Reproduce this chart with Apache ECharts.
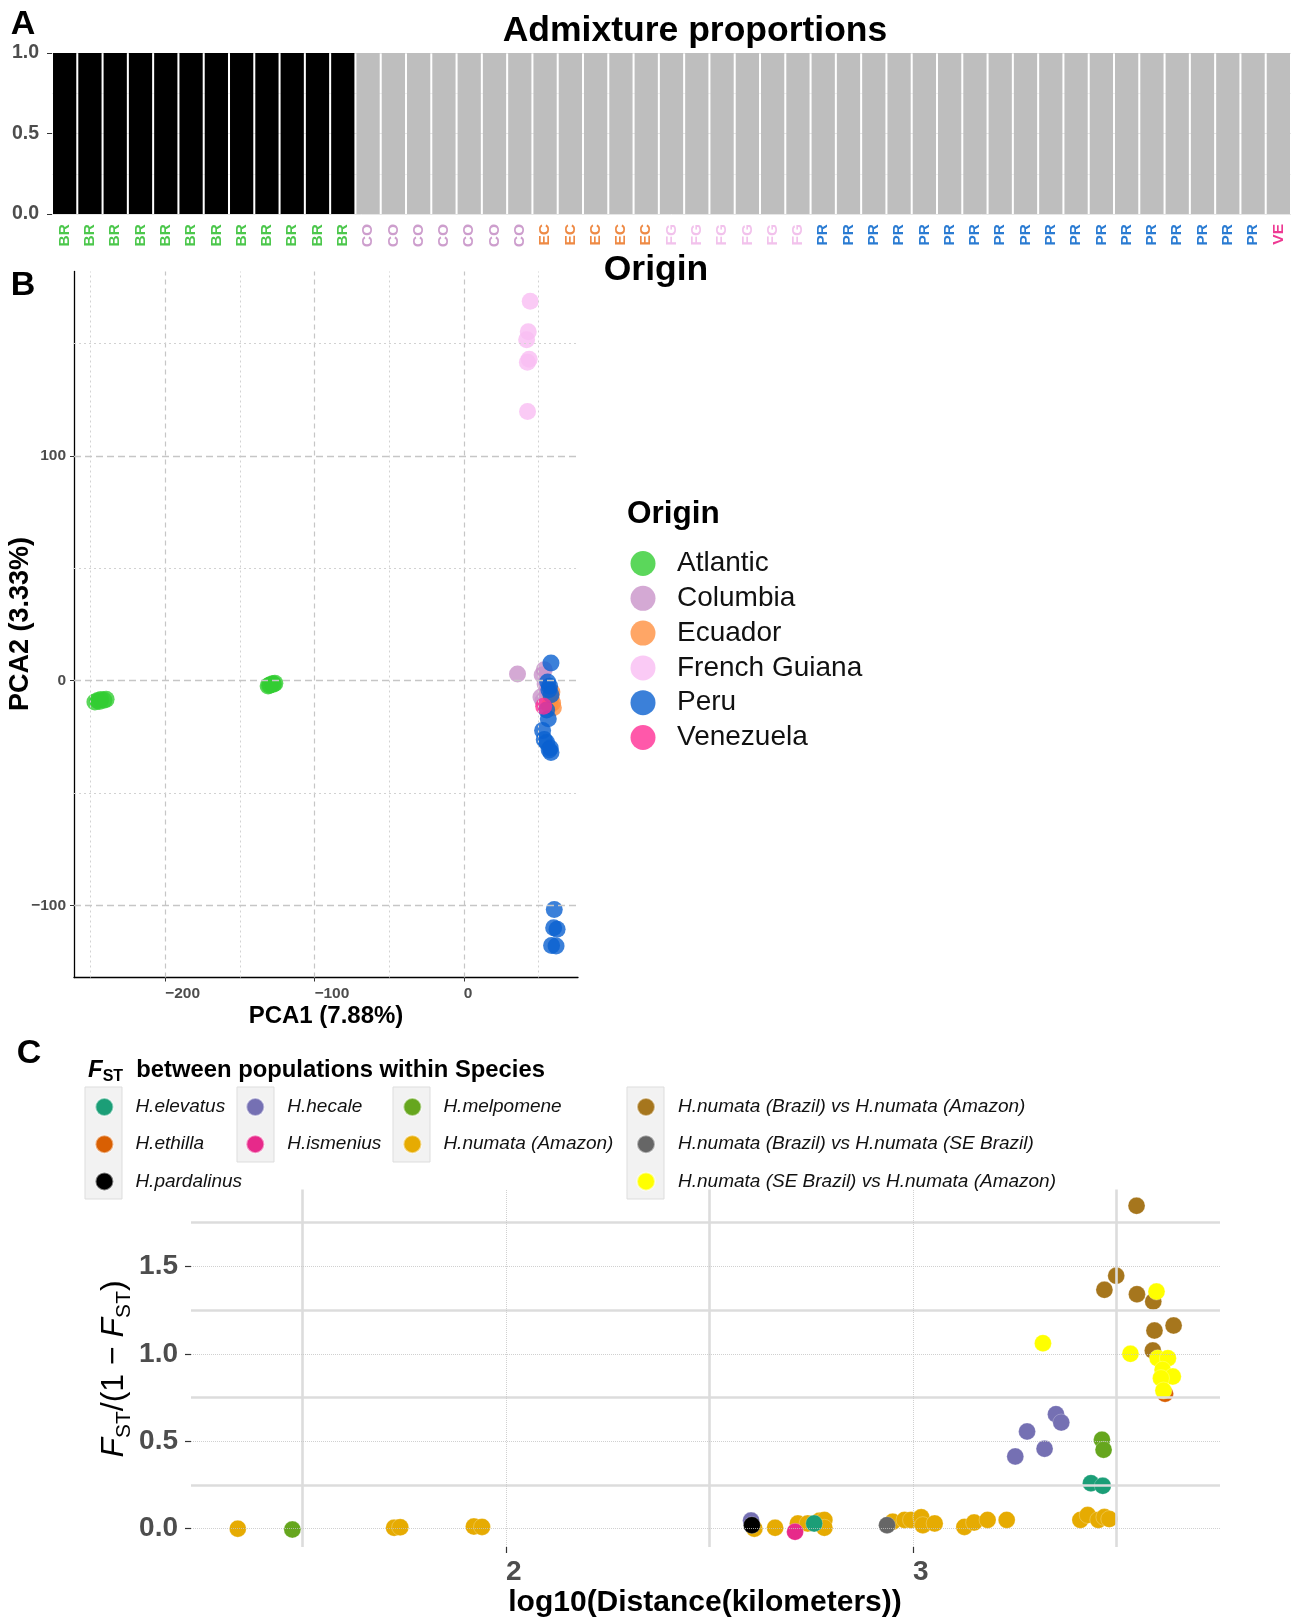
<!DOCTYPE html>
<html><head><meta charset="utf-8">
<script src="https://cdn.jsdelivr.net/npm/echarts@6/dist/echarts.min.js"></script>
<style>html,body{margin:0;padding:0;background:#fff}#c{width:1293px;height:1620px}</style>
</head><body><div id="c"></div>
<script>
// ---------------- DATA ----------------
// Panel A: admixture proportions (K=2), one bar per sample
const admixSamples = ['BR','BR','BR','BR','BR','BR','BR','BR','BR','BR','BR','BR',
  'CO','CO','CO','CO','CO','CO','CO',
  'EC','EC','EC','EC','EC',
  'FG','FG','FG','FG','FG','FG',
  'PR','PR','PR','PR','PR','PR','PR','PR','PR','PR','PR','PR','PR','PR','PR','PR','PR','PR',
  'VE'];
const admixK1 = [1,1,1,1,1,1,1,1,1,1,1,1,
  0,0,0,0,0,0,0, 0,0,0,0,0, 0,0,0,0,0,0,
  0,0,0,0,0,0,0,0,0,0,0,0,0,0,0,0,0,0, 0];
const admixK2 = [0,0,0,0,0,0,0,0,0,0,0,0,
  1,1,1,1,1,1,1, 1,1,1,1,1, 1,1,1,1,1,1,
  1,1,1,1,1,1,1,1,1,1,1,1,1,1,1,1,1,1, 1];

// Panel B: PCA
const originNames = ['Atlantic','Columbia','Ecuador','French Guiana','Peru','Venezuela'];
const pcaAtlantic = [[-247,-9.5],[-245,-8.8],[-243,-8.4],[-241,-8.7],[-239.5,-8.3],[-244,-9.2],
  [-131,-2.3],[-129.5,-1.8],[-128,-1.4],[-126.5,-1.1],[-130,-2.0],[-127.5,-1.6]];
const pcaColumbia = [[36,3],[53.9,4.9],[52.5,2.5],[54.5,-1.5],[51.7,-7.3],[55.5,-4.5],[53,-9]];
const pcaEcuador = [[59.5,-9.9],[58.5,-7.5],[60,-12],[57.5,-11],[59,-5]];
const pcaFrenchGuiana = [[44.5,168.8],[43.2,155.2],[42.1,151.6],[43.8,143],[42.6,141.6],[42.7,119.7]];
const pcaPeru = [[58.4,7.9],[56.2,-0.6],[57.5,-2.5],[57,-4],[58.4,-6.2],[55.5,-13],[56.6,-16.9],
  [52.8,-22.2],[53.9,-26.2],[55.5,-27.5],[57.9,-29.9],[58.4,-31.9],[57.2,-30.8],
  [60.6,-101.8],[60.2,-109.9],[62.5,-110.5],[58.8,-117.8],[61.8,-118]];
const pcaVenezuela = [[53.5,-11.4]];
const pcaXTicks = [-200,-100,0];
const pcaYTicks = [-100,0,100];
const pcaXMinor = [-250,-150,-50,50];
const pcaYMinor = [-50,50,150];

// Panel C: FST/(1-FST) vs log10 distance
const fstNumataAmazon = [[1.341,0],[1.725,0.005],[1.740,0.008],[1.921,0.012],[1.941,0.01],
  [2.61,0],[2.661,0.005],[2.717,0.03],[2.741,0.03],[2.77,0.045],[2.782,0.05],[2.782,0.005],
  [2.95,0.04],[2.979,0.05],[2.995,0.05],[3.02,0.065],[3.024,0.02],[3.053,0.03],
  [3.126,0.01],[3.15,0.035],[3.183,0.05],[3.23,0.05],
  [3.411,0.05],[3.429,0.078],[3.455,0.05],[3.47,0.066],[3.482,0.055]];
const fstHecale = [[2.602,0.046],[3.251,0.413],[3.28,0.556],[3.323,0.457],[3.351,0.655],[3.364,0.607]];
const fstBrazilAmazon = [[3.549,1.847],[3.499,1.446],[3.47,1.366],[3.55,1.341],[3.59,1.299],
  [3.64,1.162],[3.593,1.133],[3.589,1.019]];
const fstEthilla = [[3.619,0.772]];
const fstSEAmazon = [[3.598,1.356],[3.319,1.061],[3.534,1.0],[3.601,0.975],[3.626,0.975],
  [3.613,0.909],[3.638,0.87],[3.609,0.861],[3.615,0.79]];
const fstElevatus = [[2.757,0.03],[3.437,0.26],[3.466,0.245]];
const fstMelpomene = [[1.475,-0.005],[3.464,0.509],[3.468,0.451]];
const fstIsmenius = [[2.71,-0.018]];
const fstPardalinus = [[2.604,0.02]];
const fstBrazilSE = [[2.936,0.02]];
const fstXTicks = [2,3];
const fstYTicks = [0,0.5,1,1.5];
const fstXMinor = [1.5,2.5,3.5];
const fstYMinor = [0.25,0.75,1.25,1.75];

// ---------------- STYLE ----------------
const FONT = '"Liberation Sans", Arial, Helvetica, sans-serif';
const codeColors = {BR:'#4CC74C', CO:'#CD9ECD', EC:'#EE8A45', FG:'#F2C2EC', PR:'#2A7BD2', VE:'#EE3A93'};
const originColors = {'Atlantic':'#32CD32','Columbia':'#C994C9','Ecuador':'#FF9040',
  'French Guiana':'#F9BDF2','Peru':'#0A60D0','Venezuela':'#FF2E95'};
const fstColors = {
  'H.elevatus':'#1B9E77','H.ethilla':'#D95F02','H.pardalinus':'#000000',
  'H.hecale':'#7570B3','H.ismenius':'#E7298A','H.melpomene':'#66A61E',
  'H.numata (Amazon)':'#E6AB02','H.numata (Brazil) vs H.numata (Amazon)':'#A6761D',
  'H.numata (Brazil) vs H.numata (SE Brazil)':'#666666','H.numata (SE Brazil) vs H.numata (Amazon)':'#FFFF00'
};
const minusFmt = v => (v < 0 ? '\u2212' + Math.abs(v) : String(v));

const rich = {};
Object.keys(codeColors).forEach(k => { rich[k] = {color: codeColors[k], fontWeight:'bold', fontSize:15.5, fontFamily:FONT}; });

function gridLines(vals, axisKey, style) {
  return vals.map(v => ({[axisKey]: v, lineStyle: style}));
}

const pcaSeriesData = [
  ['Columbia', pcaColumbia], ['Ecuador', pcaEcuador], ['French Guiana', pcaFrenchGuiana],
  ['Atlantic', pcaAtlantic], ['Peru', pcaPeru], ['Venezuela', pcaVenezuela]
];
const fstSeriesData = [
  ['H.numata (Amazon)', fstNumataAmazon], ['H.hecale', fstHecale],
  ['H.numata (Brazil) vs H.numata (Amazon)', fstBrazilAmazon], ['H.ethilla', fstEthilla],
  ['H.numata (SE Brazil) vs H.numata (Amazon)', fstSEAmazon], ['H.elevatus', fstElevatus],
  ['H.melpomene', fstMelpomene], ['H.ismenius', fstIsmenius], ['H.pardalinus', fstPardalinus],
  ['H.numata (Brazil) vs H.numata (SE Brazil)', fstBrazilSE]
];

const series = [
  {type:'bar', name:'K1', stack:'adm', xAxisIndex:0, yAxisIndex:0, data: admixK1,
   itemStyle:{color:'#000000'}, barCategoryGap:'8%'},
  {type:'bar', name:'K2', stack:'adm', xAxisIndex:0, yAxisIndex:0, data: admixK2,
   itemStyle:{color:'#BEBEBE'}, barCategoryGap:'8%'},
  {type:'scatter', name:'pcaGrid', xAxisIndex:1, yAxisIndex:1, data:[], z:1, silent:true,
   markLine:{silent:true, symbol:['none','none'], label:{show:false}, animation:false,
     data: [].concat(
       gridLines(pcaXTicks,'xAxis',{color:'#C6C6C6', width:1.2, type:[5,4]}),
       gridLines(pcaXMinor,'xAxis',{color:'#D2D2D2', width:1, type:[2,3]}),
       gridLines(pcaYTicks,'yAxis',{color:'#C6C6C6', width:1.3, type:[7,4]}),
       gridLines(pcaYMinor,'yAxis',{color:'#D2D2D2', width:1, type:[2,3]})
     )}},
  {type:'scatter', name:'fstGrid', xAxisIndex:2, yAxisIndex:2, data:[], z:1, silent:true,
   markLine:{silent:true, symbol:['none','none'], label:{show:false}, animation:false,
     data: [].concat(
       gridLines(fstXMinor,'xAxis',{color:'#DCDCDC', width:2.6, type:'solid'}),
       gridLines(fstYMinor,'yAxis',{color:'#DCDCDC', width:2.6, type:'solid'}),
       gridLines(fstXTicks,'xAxis',{color:'#C4C4C4', width:0.8, type:[1,1]}),
       gridLines(fstYTicks,'yAxis',{color:'#C4C4C4', width:0.8, type:[1,1]})
     )}}
];
pcaSeriesData.forEach(([name, data]) => series.push({
  type:'scatter', name, xAxisIndex:1, yAxisIndex:1, data, symbol:'circle', symbolSize:17, z:3,
  itemStyle:{color: originColors[name], opacity:0.8}
}));
fstSeriesData.forEach(([name, data]) => series.push({
  type:'scatter', name, xAxisIndex:2, yAxisIndex:2, data, symbol:'circle', symbolSize:17, z:3,
  itemStyle:{color: fstColors[name], opacity:1, borderColor:'rgba(255,255,255,0.5)', borderWidth:0.5}
}));

const tickLabel = (size) => ({color:'#4D4D4D', fontWeight:'bold', fontSize:size, fontFamily:FONT});

const legendC = (data, left, w) => ({
  data, orient:'vertical', left, top:1097, itemWidth:w, itemHeight:18, itemGap:17.2, icon:'circle',
  padding:0, selectedMode:false,
  textStyle:{fontSize:19, fontStyle:'italic', fontFamily:FONT, color:'#111', lineHeight:18}
});

function txt(text, x, y, size, opts) {
  opts = opts || {};
  return {type:'text', x, y, rotation: opts.rotation || 0, z:10,
    style:{text, fill:opts.color || '#000', fontSize:size, fontWeight: opts.weight || 'bold',
      fontFamily:FONT, fontStyle: opts.style || 'normal',
      align: opts.align || 'center', textAlign: opts.align || 'center',
      verticalAlign:'middle', textVerticalAlign:'middle', rich: opts.rich}};
}

const option = {
  animation:false,
  backgroundColor:'#ffffff',
  grid:[
    {left:52, top:53, width:1239, height:161, containLabel:false, outerBoundsMode:'none'},
    {left:74, top:271.5, width:504, height:706, containLabel:false, outerBoundsMode:'none'},
    {left:191, top:1189.5, width:1029, height:357.5, containLabel:false, outerBoundsMode:'none'}
  ],
  xAxis:[
    {type:'category', gridIndex:0, data: admixSamples, axisLine:{show:false}, axisTick:{show:false},
     axisLabel:{interval:0, rotate:90, margin:10, formatter: v => '{' + v + '|' + v + '}', rich}},
    {type:'value', gridIndex:1, min:-261, max:76.5,
     axisLine:{show:true, onZero:false, lineStyle:{color:'#000', width:1.3}},
     axisTick:{show:true, customValues: pcaXTicks, length:4, lineStyle:{color:'#333'}},
     axisLabel:Object.assign({customValues: pcaXTicks, formatter: minusFmt, margin:8, align:'left'}, tickLabel(15.5)),
     splitLine:{show:false}},
    {type:'value', gridIndex:2, min:1.226, max:3.754,
     axisLine:{show:false, onZero:false},
     axisTick:{show:true, customValues: fstXTicks, length:6, lineStyle:{color:'#333', width:1.2}},
     axisLabel:Object.assign({customValues: fstXTicks, margin:11, align:'left'}, tickLabel(28)),
     splitLine:{show:false}}
  ],
  yAxis:[
    {type:'value', gridIndex:0, min:0, max:1, interval:0.5, axisLine:{show:false},
     axisTick:{show:true, length:5, lineStyle:{color:'#333'}},
     axisLabel:Object.assign({formatter: v => v.toFixed(1), margin:13}, tickLabel(19.5)),
     splitLine:{show:true, lineStyle:{color:'#E6E6E6'}},
     minorTick:{show:false, splitNumber:2},
     minorSplitLine:{show:true, lineStyle:{color:'#EFEFEF'}}},
    {type:'value', gridIndex:1, min:-132, max:182,
     axisLine:{show:true, onZero:false, lineStyle:{color:'#000', width:1.3}},
     axisTick:{show:true, customValues: pcaYTicks, length:4, lineStyle:{color:'#333'}},
     axisLabel:Object.assign({customValues: pcaYTicks, formatter: minusFmt, margin:8}, tickLabel(15.5)),
     splitLine:{show:false}},
    {type:'value', gridIndex:2, min:-0.105, max:1.94,
     axisLine:{show:false, onZero:false},
     axisTick:{show:true, customValues: fstYTicks, length:6, lineStyle:{color:'#333', width:1.2}},
     axisLabel:Object.assign({customValues: fstYTicks, formatter: v => Number(v).toFixed(1), margin:13}, tickLabel(28)),
     splitLine:{show:false}}
  ],
  legend:[
    {data: originNames, orient:'vertical', left:630.5, top:549.5, itemWidth:58, itemHeight:25, itemGap:6.8,
     icon:'circle', padding:0, selectedMode:false,
     textStyle:{fontSize:28, fontFamily:FONT, color:'#111', lineHeight:25}},
    legendC(['H.elevatus','H.ethilla','H.pardalinus'], 94.4, 52),
    legendC(['H.hecale','H.ismenius'], 245.3, 54),
    legendC(['H.melpomene','H.numata (Amazon)'], 402.4, 52),
    legendC(['H.numata (Brazil) vs H.numata (Amazon)','H.numata (Brazil) vs H.numata (SE Brazil)',
             'H.numata (SE Brazil) vs H.numata (Amazon)'], 636, 54)
  ],
  graphic:[
    {type:'rect', z:0, shape:{x:85, y:1087, width:37, height:112}, style:{fill:'#F2F2F2', stroke:'#DDDDDD', lineWidth:1}},
    {type:'rect', z:0, shape:{x:237, y:1087, width:37, height:75}, style:{fill:'#F2F2F2', stroke:'#DDDDDD', lineWidth:1}},
    {type:'rect', z:0, shape:{x:393, y:1087, width:37, height:75}, style:{fill:'#F2F2F2', stroke:'#DDDDDD', lineWidth:1}},
    {type:'rect', z:0, shape:{x:627, y:1087, width:37, height:112}, style:{fill:'#F2F2F2', stroke:'#DDDDDD', lineWidth:1}},
    txt('A', 23, 25, 34),
    txt('B', 23, 286, 34),
    txt('C', 29, 1054, 34),
    txt('Admixture proportions', 695, 31, 35.5),
    txt('Origin', 656, 270, 35.5),
    txt('PCA1 (7.88%)', 326, 1016, 24),
    txt('PCA2 (3.33%)', 21, 624, 27, {rotation: Math.PI/2}),
    txt('Origin', 627, 514, 31.5, {align:'left'}),
    txt('log10(Distance(kilometers))', 705, 1603, 30),
    txt('{fb|F}{sb|ST}{b|  between populations within Species}', 88, 1070, 24, {align:'left', rich:{
      fb:{fontSize:24, fontWeight:'bold', fontStyle:'italic', fontFamily:FONT, lineHeight:30, verticalAlign:'middle'},
      sb:{fontSize:16, fontWeight:'bold', fontFamily:FONT, lineHeight:16, verticalAlign:'bottom'},
      b:{fontSize:23.8, fontWeight:'bold', fontFamily:FONT, lineHeight:30, verticalAlign:'middle'}
    }}),
    txt('{fi|F}{sb|ST}{n|/(1 \u2212 }{fi|F}{sb|ST}{n|)}', 114, 1369, 32, {rotation: Math.PI/2, weight:'normal', rich:{
      fi:{fontSize:32, fontStyle:'italic', fontFamily:FONT, lineHeight:42, verticalAlign:'middle'},
      sb:{fontSize:21, fontFamily:FONT, lineHeight:21, verticalAlign:'bottom'},
      n:{fontSize:32, fontFamily:FONT, lineHeight:42, verticalAlign:'middle'}
    }})
  ],
  series
};

const chart = echarts.init(document.getElementById('c'), null, {renderer:'canvas', width:1293, height:1620});
chart.setOption(option);
</script></body></html>
